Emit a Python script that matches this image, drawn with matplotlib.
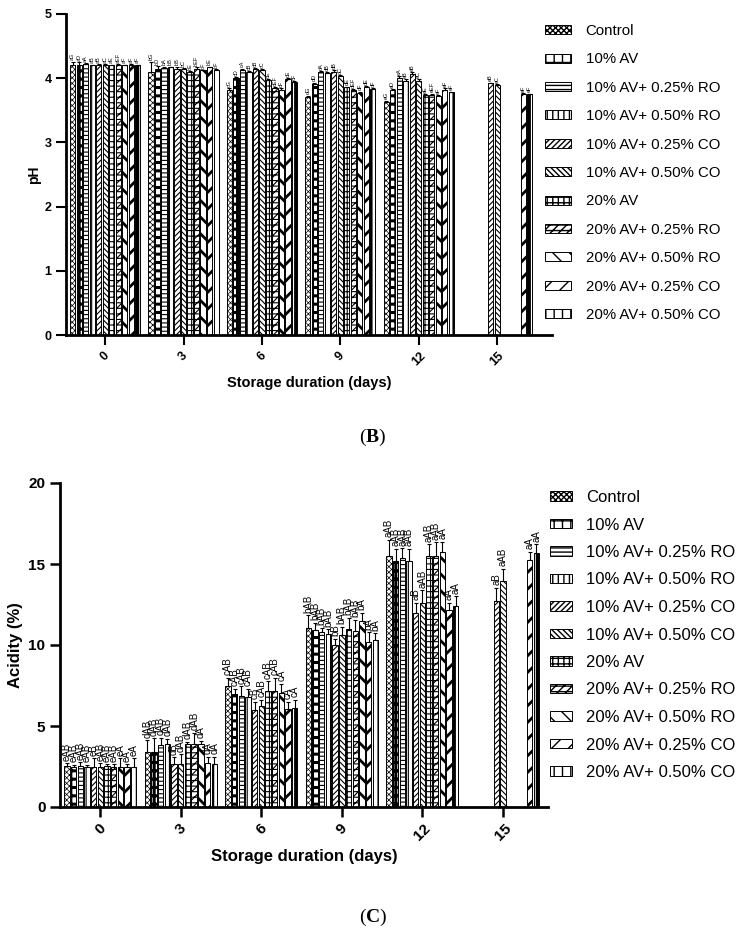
import numpy as np
import matplotlib.pyplot as plt

plt.rcParams['font.family'] = ['Liberation Sans', 'DejaVu Sans']
plt.rcParams['mathtext.fontset'] = 'custom'
plt.rcParams['mathtext.rm'] = 'Liberation Serif'
plt.rcParams['mathtext.bf'] = 'Liberation Serif:bold'

nan = np.nan

# dias de almacenamiento y tratamientos
dias = ['0', '3', '6', '9', '12', '15']
tratamientos = ['Control', '10% AV', '10% AV+ 0.25% RO', '10% AV+ 0.50% RO',
                '10% AV+ 0.25% CO', '10% AV+ 0.50% CO', '20% AV',
                '20% AV+ 0.25% RO', '20% AV+ 0.50% RO', '20% AV+ 0.25% CO',
                '20% AV+ 0.50% CO']

# pH (una fila por dia, una columna por tratamiento)
ph_media = [
    [4.21, 4.21, 4.22, 4.20, 4.20, 4.20, 4.20, 4.20, 4.20, 4.21, 4.20],
    [4.09, 4.14, 4.16, 4.17, 4.15, 4.14, 4.10, 4.15, 4.12, 4.17, 4.13],
    [3.82, 4.00, 4.13, 4.10, 4.14, 4.12, 3.97, 3.84, 3.82, 3.98, 3.94],
    [3.71, 3.91, 4.10, 4.08, 4.10, 4.03, 3.86, 3.81, 3.77, 3.86, 3.83],
    [3.63, 3.81, 4.01, 3.95, 4.07, 3.95, 3.74, 3.74, 3.72, 3.82, 3.78],
    [nan, nan, nan, nan, 3.92, 3.90, nan, nan, nan, 3.76, 3.75],
]
ph_error = [
    [0.05, 0.04, 0.02, 0.01, 0.02, 0.02, 0.01, 0.02, 0.01, 0.01, 0.01],
    [0.17, 0.05, 0.02, 0.01, 0.03, 0.02, 0.01, 0.02, 0.01, 0.01, 0.01],
    [0.02, 0.02, 0.02, 0.01, 0.02, 0.02, 0.01, 0.02, 0.02, 0.02, 0.01],
    [0.02, 0.02, 0.01, 0.01, 0.02, 0.02, 0.01, 0.02, 0.02, 0.02, 0.01],
    [0.02, 0.02, 0.02, 0.03, 0.02, 0.03, 0.01, 0.02, 0.02, 0.02, 0.01],
    [nan, nan, nan, nan, 0.01, 0.01, nan, nan, nan, 0.01, 0.01],
]
ph_letras = [
    ['aG', 'aD', 'aA', 'aB', 'aB', 'aC', 'aE', 'aEF', 'aF', 'aF', 'aF'],
    ['bG', 'bD', 'bA', 'bB', 'bB', 'bC', 'bE', 'bEF', 'bF', 'bE', 'bF'],
    ['cG', 'cD', 'cA', 'cB', 'cB', 'cC', 'cE', 'cEF', 'cF', 'cE', 'cF'],
    ['dG', 'dD', 'dA', 'dB', 'dB', 'dC', 'dE', 'dEF', 'dF', 'dE', 'dF'],
    ['eG', 'eD', 'eA', 'eB', 'eB', 'eC', 'eE', 'eEF', 'eF', 'eF', 'eF'],
    ['', '', '', '', 'eB', 'eC', '', '', '', 'eF', 'eF'],
]

# acidez (%)
acidez_media = [
    [2.55, 2.50, 2.55, 2.50, 2.50, 2.50, 2.55, 2.50, 2.50, 2.50, 2.50],
    [3.41, 3.41, 3.83, 3.87, 2.64, 2.66, 3.89, 3.89, 3.89, 2.70, 2.66],
    [7.47, 6.95, 6.85, 6.80, 5.99, 6.23, 7.18, 7.18, 7.02, 6.05, 6.11],
    [11.03, 10.93, 10.78, 10.66, 10.00, 10.62, 10.99, 10.86, 11.48, 10.20, 10.31],
    [15.49, 15.20, 15.39, 15.19, 11.96, 12.57, 15.51, 15.51, 15.72, 12.16, 12.41],
    [nan, nan, nan, nan, 12.74, 13.95, nan, nan, nan, 15.25, 15.66],
]
acidez_error = [
    [0.15, 0.10, 0.20, 0.10, 0.50, 0.20, 0.10, 0.15, 0.50, 0.15, 0.50],
    [0.70, 0.85, 0.45, 0.35, 0.45, 0.60, 0.15, 0.70, 0.20, 0.40, 0.45],
    [0.50, 0.35, 0.60, 0.50, 0.50, 0.40, 0.60, 0.80, 0.60, 0.45, 0.50],
    [0.80, 0.45, 0.30, 0.30, 0.40, 0.50, 0.70, 0.70, 0.50, 0.60, 0.40],
    [1.00, 0.75, 0.60, 0.75, 0.65, 0.80, 0.70, 0.85, 0.65, 0.45, 0.60],
    [nan, nan, nan, nan, 0.80, 0.75, nan, nan, nan, 0.50, 0.55],
]
acidez_letras = [
    ['eAB', 'eAB', 'eAB', 'eAB', 'eB', 'eAB', 'eAB', 'eAB', 'eA', 'eA', 'eA'],
    ['dAB', 'dAB', 'dAB', 'dAB', 'dB', 'dAB', 'dAB', 'dAB', 'dA', 'dA', 'dA'],
    ['cAB', 'cAB', 'cAB', 'cAB', 'cB', 'cAB', 'cAB', 'cAB', 'cA', 'cA', 'cA'],
    ['bAB', 'bAB', 'bAB', 'bAB', 'bB', 'bAB', 'bAB', 'bAB', 'bA', 'bA', 'bA'],
    ['aAB', 'aAB', 'aAB', 'aAB', 'aB', 'aAB', 'aAB', 'aAB', 'aA', 'aA', 'aA'],
    ['', '', '', '', 'aB', 'aAB', '', '', '', 'aA', 'aA'],
]

# tramas de las barras (hatch, grosor de linea)
patrones = [('xxxxxx', 0.5), ('++', 2.2), ('----', 0.8), ('|||', 0.8),
            ('//////', 0.8), ('\\\\\\\\\\\\', 0.8), ('+++', 0.8),
            ('////---', 0.8), ('\\\\', 2.0), ('//', 2.0), ('||', 2.5)]


def dibujar(ax, medias, errores, letras, tam_letra, sep):
    medias = np.array(medias, dtype=float)
    errores = np.array(errores, dtype=float)
    x = np.arange(len(dias))
    ancho = 0.083
    for i, nombre in enumerate(tratamientos):
        xi = x + (i - 5) * ancho
        trama, grosor = patrones[i]
        with plt.rc_context({'hatch.linewidth': grosor}):
            ax.bar(xi, medias[:, i], width=ancho * 0.8, facecolor='white',
                   edgecolor='black', linewidth=0.7, hatch=trama, label=nombre)
        ax.errorbar(xi, medias[:, i], yerr=[np.zeros(len(dias)), errores[:, i]],
                    fmt='none', ecolor='black', elinewidth=0.8, capsize=1.2, capthick=0.8)
        for j in range(len(dias)):
            if np.isnan(medias[j, i]):
                continue
            ax.text(xi[j], medias[j, i] + errores[j, i] + sep, letras[j][i],
                    rotation=90, ha='center', va='bottom', fontsize=tam_letra)
    ax.set_xticks(x)
    for lado in ['top', 'right']:
        ax.spines[lado].set_visible(False)
    for lado in ['left', 'bottom']:
        ax.spines[lado].set_linewidth(2)


fig = plt.figure(figsize=(7.46, 9.33), dpi=100)

# (B) pH
ax1 = fig.add_axes([66 / 746, 1 - 335 / 933, 486 / 746, 321 / 933])
dibujar(ax1, ph_media, ph_error, ph_letras, 4, 0.02)
ax1.set_xlim(-0.5, 5.7)
ax1.set_ylim(0, 5)
ax1.set_yticks([0, 1, 2, 3, 4, 5])
ax1.set_xticklabels(dias, rotation=45, ha='center', fontweight='bold', fontsize=9)
ax1.tick_params(axis='y', labelsize=9, width=1.5, length=7)
ax1.tick_params(axis='x', width=1.5, length=7)
for t in ax1.get_yticklabels():
    t.set_fontweight('bold')
ax1.set_xlabel('Storage duration (days)', fontweight='bold', fontsize=10.5, labelpad=6)
ax1.set_ylabel('pH', fontweight='bold', fontsize=10, labelpad=2)
ax1.legend(loc='upper left', bbox_to_anchor=(545 / 746, 1 - 24 / 933),
           bbox_transform=fig.transFigure, frameon=False, fontsize=10.8,
           handlelength=1.7, handleheight=0.55, handletextpad=1.0,
           labelspacing=0.96, borderpad=0, borderaxespad=0)

# (C) acidez
ax2 = fig.add_axes([60 / 746, 1 - 807 / 933, 488 / 746, 324 / 933])
dibujar(ax2, acidez_media, acidez_error, acidez_letras, 7, 0.15)
ax2.set_xlim(-0.5, 5.56)
ax2.set_ylim(0, 20)
ax2.set_yticks([0, 5, 10, 15, 20])
ax2.set_xticklabels(dias, rotation=45, ha='center', fontweight='bold', fontsize=11)
ax2.tick_params(axis='y', labelsize=11, width=1.8, length=7)
ax2.tick_params(axis='x', width=1.8, length=7)
for t in ax2.get_yticklabels():
    t.set_fontweight('bold')
ax2.set_xlabel('Storage duration (days)', fontweight='bold', fontsize=12)
ax2.set_ylabel('Acidity (%)', fontweight='bold', fontsize=12, labelpad=4)
ax2.legend(loc='upper left', bbox_to_anchor=(550 / 746, 1 - 490 / 933),
           bbox_transform=fig.transFigure, frameon=False, fontsize=12,
           handlelength=1.3, handleheight=0.5, handletextpad=0.84,
           labelspacing=0.75, borderpad=0, borderaxespad=0)

fig.text(0.5, 1 - 437 / 933, r'($\mathbf{B}$)', ha='center', va='center',
         fontsize=14, family='Liberation Serif')
fig.text(0.5, 1 - 917 / 933, r'($\mathbf{C}$)', ha='center', va='center',
         fontsize=14, family='Liberation Serif')

fig.savefig('out.png', dpi=100)
